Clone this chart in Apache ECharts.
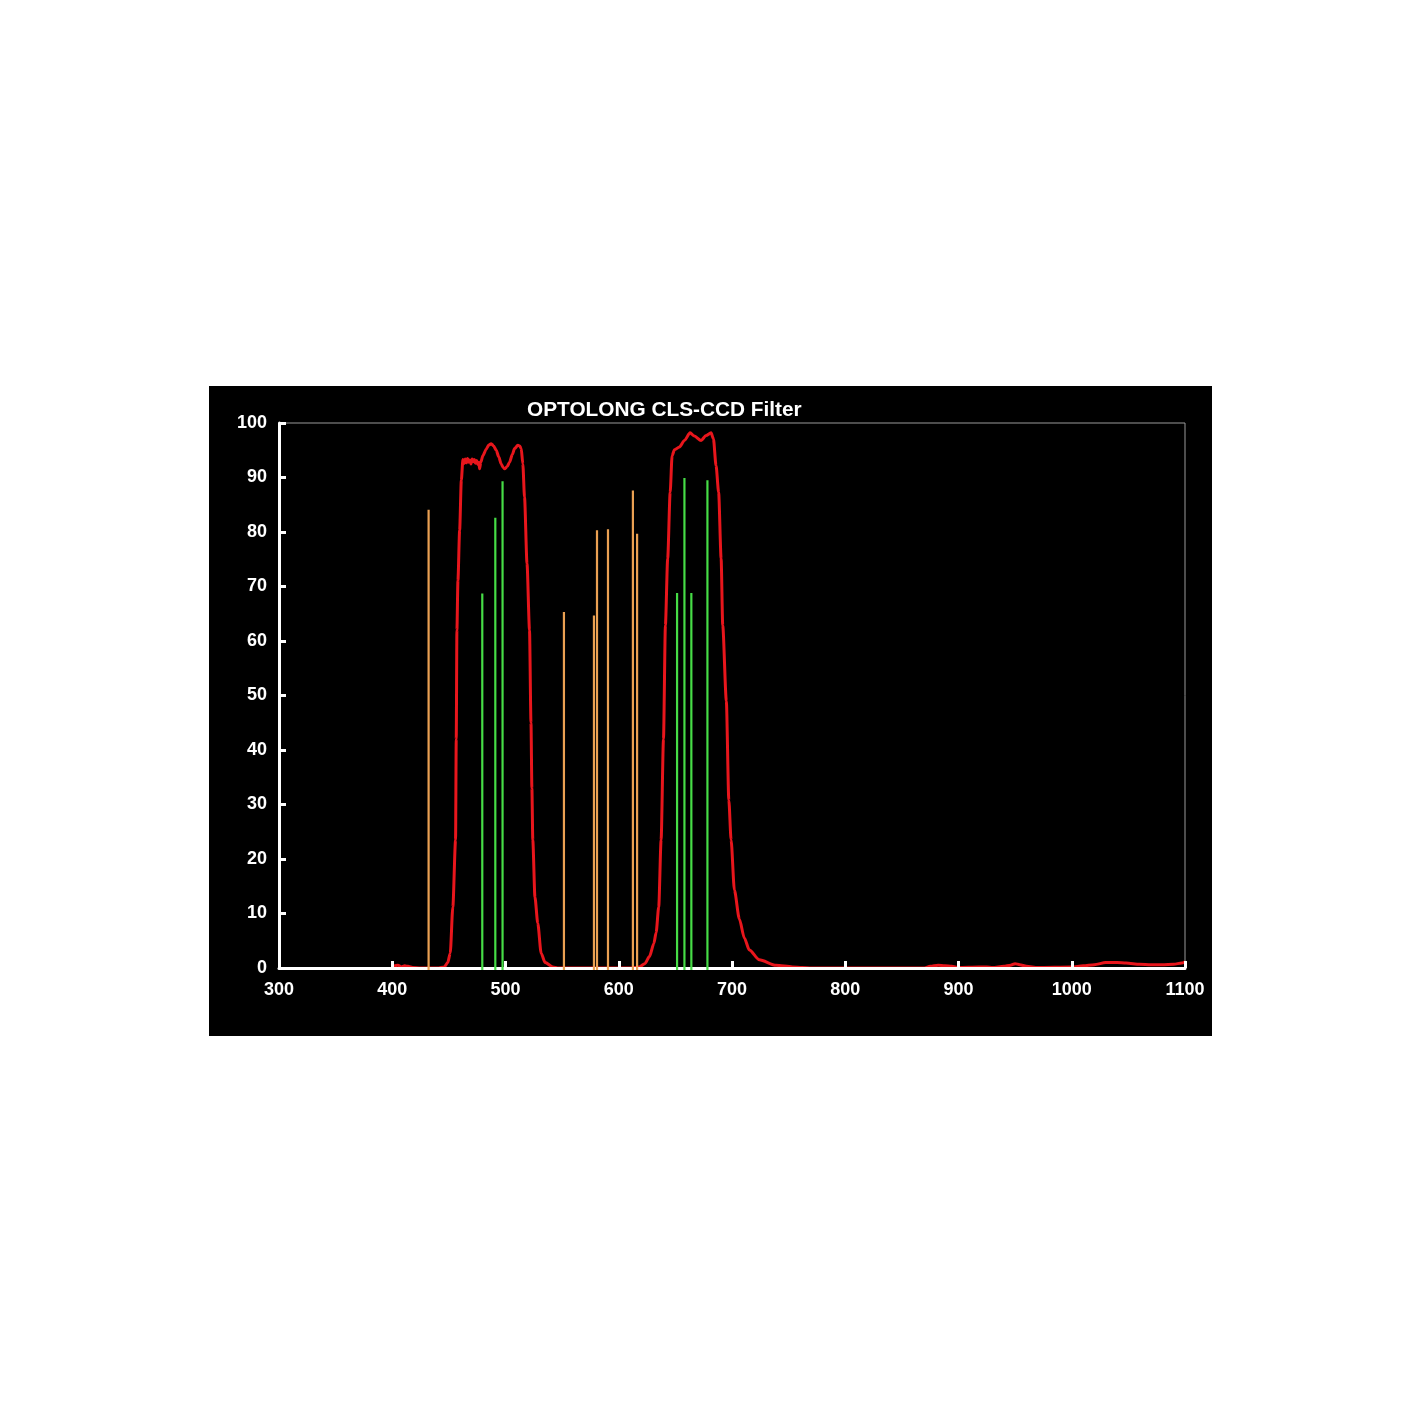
<!DOCTYPE html>
<html>
<head>
<meta charset="utf-8">
<script src="https://cdn.jsdelivr.net/npm/echarts@6/dist/echarts.min.js"></script>
<style>
  html, body { margin: 0; padding: 0; background: #ffffff; width: 1422px; height: 1422px; }
  #chart { position: absolute; left: 209px; top: 386px; width: 1003px; height: 650px; background: #000; }
</style>
</head>
<body>
<div id="chart"></div>
<script>
// ---- Data ----
const titleText = 'OPTOLONG CLS-CCD Filter';
const xTicks = [300, 400, 500, 600, 700, 800, 900, 1000, 1100];
const yTicks = [0, 10, 20, 30, 40, 50, 60, 70, 80, 90, 100];

// Filter transmission curve (wavelength nm, transmission %)
const redWavelengths = [
  400, 402, 405, 408, 411, 414, 418, 425, 440, 446, 449, 451.2, 453.5, 455.9, 456.5, 457.1, 458.0, 459.5, 461.0, 462.4,
  463.5, 464.5, 465.5, 466.5, 467.5, 468.5, 469.5, 470.5, 471.5, 472.5, 473.5, 474.5, 475.5, 476.5, 477.1, 478.2,
  480.0, 483.0, 485.0, 487.4, 489.5, 491.8, 494.0, 496.2, 498.0, 499.2, 501.5, 503.6, 506.0, 508.0, 510.9, 512.5, 513.9,
  515.3, 516.8, 519.0, 521.2, 522.5, 523.3, 524.1, 526.0, 528.5, 531.5, 535.0, 541.8, 546, 612, 614, 618.3, 623, 627.1,
  631, 633, 635.3, 637.4, 639.5, 641.2, 643.2, 645.4, 647.1, 649.2, 653.6, 658.0, 663.0, 666.8, 672.7, 677.1, 681.5,
  683.6, 685.9, 688.2, 690.4, 691.8, 695.0, 697.2, 699.2, 702.1, 706.5, 710.9, 715.3, 724.1, 738.9, 753.3, 762, 770,
  870, 875, 882, 888, 894, 900, 918, 925, 930, 940, 946, 950, 954, 960, 970, 1000, 1010, 1020, 1030, 1040, 1048,
  1060, 1070, 1080, 1090, 1097, 1100
];
const redTransmission = [
  0, 0.4, 0.5, 0.2, 0.4, 0.3, 0.1, 0, 0, 0.2, 1.0, 2.7, 11.2, 23.5, 42, 62, 71.1, 80.3, 89.5, 93.3,
  92.6, 93.4, 92.7, 93.5, 92.8, 93.2, 92.5, 93.4, 92.9, 93.3, 92.6, 93.1, 92.4, 92.8, 91.6, 92.8,
  94.0, 95.2, 95.9, 96.2, 95.8, 95.0, 93.8, 92.5, 91.8, 91.6, 92.0, 92.8, 94.2, 95.3, 95.9, 95.8, 95.3,
  92.5, 86.4, 74.2, 62.0, 45.0, 33.0, 23.5, 13.0, 8.2, 2.7, 1.0, 0.2, 0, 0, 0.1, 0.2, 0.8, 2.1,
  4.5, 6.5, 11.2, 23.5, 42, 62.9, 75.1, 87.3, 94.0, 95.1, 95.6, 96.8, 98.2, 97.6, 96.8, 97.7, 98.2,
  97.1, 92.2, 87.3, 75.1, 62.9, 49, 30.8, 23.5, 14.3, 9.0, 5.5, 3.3, 1.5, 0.5, 0.2, 0.1, 0,
  0, 0.3, 0.5, 0.4, 0.3, 0.1, 0.2, 0.2, 0.1, 0.3, 0.5, 0.8, 0.6, 0.3, 0.1, 0.2, 0.4, 0.6, 1.0, 1.0, 0.9,
  0.7, 0.6, 0.6, 0.7, 0.9, 1.15
];

// Emission lines (wavelength nm, relative height)
const orangeWavelengths = [432.1, 551.6, 578.1, 580.8, 590.5, 612.5, 616.2];
const orangeHeights = [84.1, 65.3, 64.7, 80.3, 80.5, 87.6, 79.7];
const greenWavelengths = [479.5, 491.0, 497.4, 651.5, 658.0, 664.1, 678.3];
const greenHeights = [68.7, 82.6, 89.3, 68.8, 89.9, 68.8, 89.5];

// ---- Chart ----
const FONT = "'Liberation Sans', Arial, sans-serif";
const chart = echarts.init(document.getElementById('chart'), null, { renderer: 'canvas' });

function pairs(xs, ys) { return xs.map((x, i) => [x, ys[i]]); }

function lineSeries(name, xs, ys, color, width) {
  return {
    name: name,
    type: 'custom',
    z: 10,
    clip: false,
    data: pairs(xs, ys),
    renderItem: function (params, api) {
      const p0 = api.coord([api.value(0), 0]);
      const p1 = api.coord([api.value(0), api.value(1)]);
      return {
        type: 'line',
        shape: { x1: p0[0], y1: p0[1] + 2, x2: p1[0], y2: p1[1] },
        style: { stroke: color, lineWidth: width }
      };
    }
  };
}

const option = {
  backgroundColor: '#000000',
  animation: false,
  title: {
    text: titleText,
    left: 313,
    top: 9,
    textStyle: { color: '#ffffff', fontFamily: FONT, fontWeight: 'bold', fontSize: 20.8 }
  },
  grid: {
    left: 70, right: 27, top: 37, bottom: 68,
    show: true, borderColor: '#9a9a9a', borderWidth: 1, backgroundColor: 'transparent'
  },
  xAxis: {
    type: 'value',
    min: xTicks[0], max: xTicks[xTicks.length - 1], interval: 100,
    z: 5,
    axisLine: { show: true, lineStyle: { color: '#ffffff', width: 3 } },
    axisTick: { show: true, inside: true, length: 7, lineStyle: { color: '#ffffff', width: 3 } },
    axisLabel: {
      color: '#ffffff', fontFamily: FONT, fontWeight: 'bold', fontSize: 18, margin: 13,
      formatter: function (v) { return String(v); }
    },
    splitLine: { show: false }
  },
  yAxis: {
    type: 'value',
    min: yTicks[0], max: yTicks[yTicks.length - 1], interval: 10,
    z: 5,
    axisLine: { show: true, lineStyle: { color: '#ffffff', width: 3 } },
    axisTick: { show: true, inside: true, length: 7, lineStyle: { color: '#ffffff', width: 3 } },
    axisLabel: {
      color: '#ffffff', fontFamily: FONT, fontWeight: 'bold', fontSize: 18, margin: 12,
      formatter: function (v) { return String(v); }
    },
    splitLine: { show: false }
  },
  series: [
    {
      name: 'CLS-CCD',
      type: 'line',
      z: 2,
      data: pairs(redWavelengths, redTransmission),
      showSymbol: false,
      symbol: 'none',
      smooth: 0.25,
      smoothMonotone: 'x',
      lineStyle: { color: '#e8161c', width: 3 }
    },
    lineSeries('Light pollution lines', orangeWavelengths, orangeHeights, '#eaa052', 2.2),
    lineSeries('Emission lines', greenWavelengths, greenHeights, '#46dc46', 2.2)
  ]
};
chart.setOption(option);
</script>
</body>
</html>
